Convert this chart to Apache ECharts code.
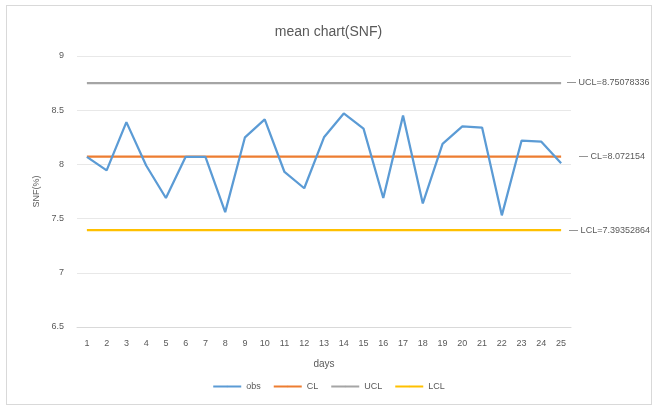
<!DOCTYPE html>
<html>
<head>
<meta charset="utf-8">
<script src="https://cdn.jsdelivr.net/npm/echarts@6/dist/echarts.min.js"></script>
<style>
  html, body { margin: 0; padding: 0; background: #fff; }
  #frame { position: absolute; left: 6px; top: 5px; width: 644px; height: 398px; border: 1px solid #d9d9d9; }
  #chart { position: absolute; left: 0; top: 0; width: 657px; height: 410px; }
</style>
</head>
<body>
<div id="frame"></div>
<div id="chart"></div>
<script>
// days 1..25
const days = ['1','2','3','4','5','6','7','8','9','10','11','12','13','14','15','16','17','18','19','20','21','22','23','24','25'];
// sample means
const obs = [8.07, 7.945, 8.39, 7.99, 7.69, 8.07, 8.07, 7.56, 8.25, 8.415, 7.93, 7.78, 8.25,
             8.47, 8.33, 7.69, 8.45, 7.64, 8.19, 8.35, 8.34, 7.53, 8.22, 8.21, 8.01];
const clValue = 8.072154;
const uclValue = 8.75078336;
const lclValue = 7.39352864;
const cl = days.map(() => clValue);
const ucl = days.map(() => uclValue);
const lcl = days.map(() => lclValue);

const font = 'Liberation Sans';
const grey = '#595959';

function limitSeries(name, data, color, label, dist) {
    return {
        name: name,
        type: 'line',
        data: data,
        symbol: 'none',
        lineStyle: { color: color, width: 2.25 },
        itemStyle: { color: color },
        endLabel: {
            show: true,
            formatter: label,
            distance: dist,
            color: grey,
            fontFamily: font,
            fontSize: 9
        },
        z: 2
    };
}

const chart = echarts.init(document.getElementById('chart'));
chart.setOption({
    animation: false,
    textStyle: { fontFamily: font },
    title: {
        text: 'mean chart(SNF)',
        left: 'center',
        top: 20,
        textStyle: { color: grey, fontSize: 14, fontWeight: 'normal', fontFamily: font }
    },
    legend: {
        bottom: 14,
        left: 'center',
        itemWidth: 28,
        itemHeight: 2,
        itemGap: 12,
        textStyle: { color: grey, fontSize: 9, fontFamily: font },
        data: ['obs', 'CL', 'UCL', 'LCL']
    },
    grid: { left: 77, right: 86, top: 56, bottom: 83 },
    xAxis: {
        type: 'category',
        data: days,
        boundaryGap: true,
        name: 'days',
        nameLocation: 'middle',
        nameGap: 32,
        nameTextStyle: { color: grey, fontSize: 10 },
        axisLine: { lineStyle: { color: '#d9d9d9' } },
        axisTick: { show: false },
        axisLabel: { color: grey, fontSize: 9, interval: 0, margin: 12 }
    },
    yAxis: {
        type: 'value',
        min: 6.5,
        max: 9,
        interval: 0.5,
        name: 'SNF(%)',
        nameLocation: 'middle',
        nameGap: 35,
        nameTextStyle: { color: grey, fontSize: 9 },
        axisLine: { show: false },
        axisTick: { show: false },
        axisLabel: { color: grey, fontSize: 9, margin: 13 },
        splitLine: { lineStyle: { color: '#e8e8e8' } }
    },
    series: [
        {
            name: 'obs',
            type: 'line',
            data: obs,
            symbol: 'none',
            lineStyle: { color: '#5B9BD5', width: 2.25 },
            itemStyle: { color: '#5B9BD5' },
            z: 3
        },
        limitSeries('CL', cl, '#ED7D31', '— CL=8.072154', 18),
        limitSeries('UCL', ucl, '#A5A5A5', '— UCL=8.75078336', 6),
        limitSeries('LCL', lcl, '#FFC000', '— LCL=7.39352864', 8)
    ]
});
</script>
</body>
</html>
